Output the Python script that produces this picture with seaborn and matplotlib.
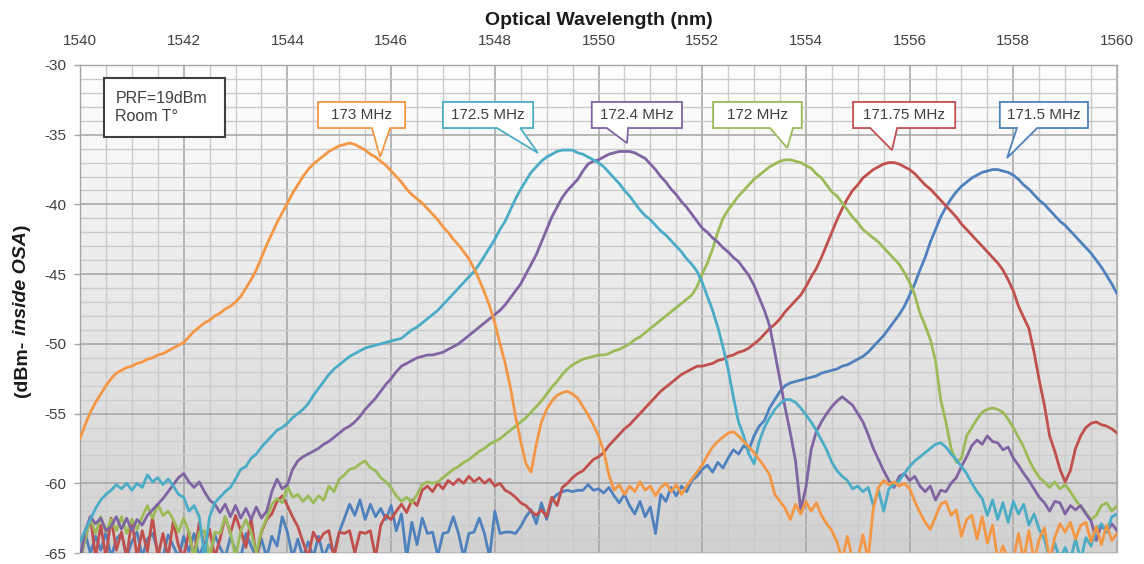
import numpy as np
import pandas as pd
import matplotlib
matplotlib.use("Agg")
import matplotlib.pyplot as plt
import seaborn as sns
from matplotlib.colors import LinearSegmentedColormap
from matplotlib.patches import Polygon, Rectangle
from matplotlib.ticker import MultipleLocator

# ---------------- data ----------------
wavelength_nm = np.round(np.arange(1540.0, 1560.0001, 0.1), 1)

power_173 = [
    -56.8, -55.8, -54.9, -54.2, -53.6, -53.0, -52.5, -52.1, -51.9, -51.7,
    -51.6, -51.4, -51.3, -51.1, -51.0, -50.8, -50.7, -50.5, -50.3, -50.1,
    -49.9, -49.5, -49.1, -48.8, -48.5, -48.3, -48.0, -47.8, -47.5, -47.3,
    -47.0, -46.6, -46.0, -45.4, -44.7, -43.8, -42.9, -42.1, -41.3, -40.6,
    -39.9, -39.2, -38.6, -38.0, -37.5, -37.1, -36.8, -36.5, -36.2, -36.0,
    -35.8, -35.7, -35.6, -35.7, -35.9, -36.1, -36.4, -36.6, -36.9, -37.2,
    -37.6, -38.0, -38.4, -38.9, -39.3, -39.6, -39.9, -40.3, -40.7, -41.1,
    -41.6, -42.0, -42.5, -42.9, -43.4, -43.9, -44.6, -45.4, -46.3, -47.3,
    -48.5, -50.0, -51.4, -53.1, -55.2, -57.0, -58.6, -59.2, -57.2, -55.6,
    -54.7, -54.1, -53.7, -53.5, -53.4, -53.6, -53.9, -54.5, -55.1, -55.8,
    -56.6, -57.7, -59.4, -60.5, -60.1, -60.8, -60.2, -60.6, -59.9, -60.5,
    -60.2, -60.9, -60.3, -60.0, -60.6, -60.1, -60.8, -60.2, -59.7, -59.2,
    -58.7, -58.0, -57.4, -57.0, -56.7, -56.4, -56.3, -56.6, -57.0, -57.4,
    -57.8, -58.3, -58.8, -59.4, -60.8, -61.3, -61.8, -62.6, -61.5, -62.2,
    -61.3, -62.0, -61.4, -62.3, -62.9, -63.4, -64.2, -65.5, -63.8, -65.5,
    -65.5, -63.7, -65.5, -61.8, -60.3, -59.8, -60.1, -59.9, -60.2, -60.0,
    -60.4, -61.3, -62.1, -62.8, -63.3, -62.4, -61.5, -61.3, -62.3, -61.9,
    -63.8, -62.6, -62.3, -64.0, -62.4, -64.3, -63.0, -65.5, -64.5, -65.5,
    -65.5, -63.6, -65.5, -63.4, -65.5, -64.0, -63.2, -65.5, -63.9, -62.9,
    -63.5, -62.8, -64.0, -63.0, -62.8, -64.2, -63.1, -64.4, -63.0, -64.1,
    -63.6,
]

power_172_5 = [
    -64.2, -63.4, -62.6, -61.8, -61.2, -60.8, -60.5, -60.1, -60.4, -60.0,
    -60.5, -60.0, -60.3, -59.4, -59.9, -59.6, -60.1, -59.7, -60.2, -60.8,
    -61.0, -62.0, -61.6, -62.4, -65.2, -62.4, -61.4, -61.0, -60.6, -60.3,
    -59.7, -59.0, -58.8, -58.2, -57.9, -57.4, -57.0, -56.6, -56.2, -56.0,
    -55.7, -55.3, -55.0, -54.7, -54.3, -53.7, -53.2, -52.7, -52.2, -51.8,
    -51.5, -51.2, -50.9, -50.7, -50.5, -50.3, -50.2, -50.1, -50.0, -49.9,
    -49.8, -49.7, -49.6, -49.3, -49.0, -48.8, -48.5, -48.2, -47.9, -47.6,
    -47.2, -46.8, -46.4, -46.0, -45.6, -45.2, -44.8, -44.3, -43.7, -43.1,
    -42.5, -41.8, -41.2, -40.4, -39.6, -38.9, -38.3, -37.7, -37.3, -36.9,
    -36.6, -36.4, -36.2, -36.1, -36.1, -36.1, -36.3, -36.4, -36.6, -36.8,
    -37.0, -37.3, -37.7, -38.1, -38.5, -39.0, -39.4, -39.9, -40.4, -40.8,
    -41.1, -41.5, -41.9, -42.2, -42.6, -43.0, -43.4, -43.9, -44.3, -44.8,
    -45.6, -46.6, -47.6, -48.8, -50.2, -51.8, -53.8, -55.6, -56.6, -57.9,
    -58.6, -57.0, -56.0, -55.3, -54.7, -54.3, -54.0, -54.0, -54.2, -54.6,
    -55.1, -55.6, -56.2, -56.9, -57.6, -58.5, -59.1, -59.5, -59.8, -60.4,
    -60.2, -60.6, -60.3, -61.6, -60.5, -62.0, -60.4, -60.1, -59.8, -59.3,
    -58.8, -58.4, -58.1, -57.8, -57.5, -57.2, -57.1, -57.4, -57.9, -58.3,
    -58.8, -59.3, -60.0, -60.6, -61.1, -62.3, -61.2, -62.6, -61.4, -62.8,
    -61.3, -62.2, -61.5, -63.0, -62.2, -63.3, -64.0, -65.5, -64.3, -65.5,
    -64.6, -65.5, -64.0, -65.5, -63.9, -64.5, -63.4, -62.9, -63.5, -62.4,
    -62.2,
]

power_172_4 = [
    -65.5, -63.4, -62.4, -62.9, -62.5, -63.4, -63.1, -62.4, -63.3, -62.5,
    -63.4, -62.6, -63.0, -62.3, -61.9, -61.5, -61.1, -60.6, -60.1, -59.6,
    -59.3, -59.9, -60.3, -59.9, -60.6, -61.2, -61.5, -62.1, -61.5, -62.4,
    -61.6, -62.5, -61.8, -62.6, -61.7, -62.5, -62.0, -60.6, -59.7, -60.4,
    -60.1, -59.0, -58.4, -58.1, -57.9, -57.7, -57.5, -57.2, -57.0, -56.7,
    -56.4, -56.1, -55.9, -55.6, -55.2, -54.7, -54.3, -53.9, -53.4, -52.9,
    -52.5, -52.0, -51.6, -51.4, -51.2, -51.0, -50.9, -50.8, -50.8, -50.7,
    -50.6, -50.4, -50.2, -50.0, -49.7, -49.4, -49.1, -48.8, -48.5, -48.2,
    -47.9, -47.6, -47.2, -46.7, -46.2, -45.7, -45.0, -44.3, -43.6, -42.7,
    -41.8, -40.9, -40.2, -39.5, -39.0, -38.6, -38.2, -37.6, -37.1, -36.9,
    -36.8, -36.6, -36.4, -36.3, -36.2, -36.2, -36.2, -36.3, -36.5, -36.7,
    -37.1, -37.5, -38.0, -38.4, -38.9, -39.3, -39.8, -40.2, -40.7, -41.2,
    -41.7, -42.0, -42.4, -42.7, -43.1, -43.4, -43.8, -44.1, -44.6, -45.1,
    -45.8, -46.7, -47.6, -48.7, -50.6, -52.6, -54.6, -56.4, -58.4, -61.9,
    -60.3, -57.6, -56.3, -55.6, -55.0, -54.5, -54.1, -53.8, -54.1, -54.4,
    -55.0, -55.6, -56.5, -57.5, -58.3, -59.1, -59.8, -60.3, -59.5, -59.3,
    -59.8, -59.5, -60.2, -60.6, -60.2, -61.2, -60.5, -60.6, -60.0, -59.6,
    -58.8, -58.1, -57.3, -56.9, -57.2, -56.6, -57.0, -57.1, -57.6, -57.4,
    -58.2, -58.7, -59.3, -59.8, -60.4, -61.0, -61.4, -62.0, -61.3, -61.4,
    -62.2, -61.6, -61.9, -61.6, -62.2, -62.7, -64.1, -63.0, -63.5, -62.9,
    -63.4,
]

power_172 = [
    -65.5, -64.0, -62.5, -63.6, -62.4, -63.5, -62.6, -63.4, -62.4, -63.6,
    -62.6, -63.3, -62.4, -61.6, -62.5, -61.5, -62.3, -62.0, -62.6, -63.5,
    -62.5, -63.5, -65.3, -63.5, -63.4, -65.3, -63.5, -63.6, -62.4, -63.5,
    -65.3, -63.4, -62.6, -63.5, -65.0, -63.4, -62.5, -61.5, -61.1, -61.4,
    -60.2, -61.0, -60.8, -61.3, -60.9, -61.4, -60.9, -61.2, -60.2, -60.6,
    -59.7, -59.4, -59.0, -58.9, -58.6, -58.4, -58.9, -59.1, -59.6, -59.9,
    -60.3, -60.9, -61.3, -61.0, -61.4, -60.8, -60.1, -59.9, -60.0, -59.9,
    -59.6, -59.3, -59.0, -58.8, -58.5, -58.3, -58.0, -57.7, -57.5, -57.2,
    -57.0, -56.8, -56.5, -56.2, -55.9, -55.6, -55.3, -54.9, -54.5, -54.1,
    -53.6, -53.1, -52.7, -52.2, -51.8, -51.5, -51.3, -51.1, -51.0, -50.9,
    -50.8, -50.8, -50.7, -50.5, -50.4, -50.2, -50.0, -49.7, -49.5, -49.2,
    -48.9, -48.6, -48.3, -48.0, -47.7, -47.4, -47.1, -46.8, -46.5, -45.9,
    -45.0, -44.2, -43.2, -42.0, -41.0, -40.4, -39.9, -39.4, -39.0, -38.6,
    -38.2, -37.9, -37.6, -37.3, -37.1, -36.9, -36.8, -36.8, -36.9, -37.0,
    -37.2, -37.4, -37.8, -38.1, -38.6, -39.1, -39.4, -39.9, -40.4, -40.9,
    -41.3, -41.8, -42.1, -42.4, -42.7, -43.1, -43.5, -43.9, -44.3, -44.9,
    -45.6, -46.5, -47.8, -48.7, -49.7, -51.2, -54.0, -55.6, -57.5, -58.5,
    -58.2, -56.6, -56.0, -55.4, -54.9, -54.7, -54.6, -54.7, -54.9, -55.4,
    -56.0, -56.7, -57.4, -58.3, -59.0, -59.6, -59.9, -60.3, -59.9, -60.4,
    -60.1, -60.6, -61.2, -61.7, -62.1, -62.6, -62.3, -61.6, -61.4, -62.0,
    -61.6,
]

power_171_75 = [
    -65.5, -64.0, -62.4, -65.3, -63.0, -65.3, -62.5, -64.8, -63.5, -65.3,
    -62.6, -65.3, -63.4, -64.9, -62.4, -65.3, -63.6, -65.3, -62.7, -64.5,
    -65.3, -63.5, -65.3, -62.8, -64.6, -63.3, -65.3, -64.0, -62.4, -63.6,
    -62.3, -63.4, -64.6, -62.5, -65.3, -63.5, -62.6, -62.2, -61.3, -60.9,
    -61.6, -62.4, -63.1, -64.2, -65.3, -63.5, -64.2, -63.6, -63.4, -65.3,
    -63.5, -63.6, -63.4, -65.0, -63.5, -63.6, -63.4, -65.3, -63.0, -62.3,
    -62.6, -62.0, -61.5, -62.1, -61.2, -61.6, -60.5, -60.2, -60.6, -60.0,
    -60.4, -59.8, -60.1, -59.7, -60.0, -59.5, -59.9, -59.6, -60.0, -59.7,
    -60.2, -60.0, -60.5, -60.7, -61.0, -61.4, -61.6, -62.0, -62.3, -61.9,
    -62.4, -61.0, -61.6, -60.3, -60.0, -59.6, -59.3, -59.1, -58.7, -58.3,
    -58.1, -57.8, -57.3, -56.9, -56.5, -56.1, -55.8, -55.4, -55.0, -54.6,
    -54.2, -53.8, -53.4, -53.1, -52.8, -52.5, -52.2, -52.0, -51.8, -51.6,
    -51.6, -51.5, -51.4, -51.2, -51.1, -50.9, -50.8, -50.6, -50.5, -50.3,
    -50.0, -49.7, -49.3, -48.9, -48.6, -48.2, -47.7, -47.3, -46.9, -46.5,
    -45.9, -45.2, -44.6, -43.8, -42.9, -42.0, -41.1, -40.3, -39.6, -39.0,
    -38.6, -38.1, -37.8, -37.5, -37.3, -37.1, -37.0, -37.0, -37.1, -37.3,
    -37.5, -37.8, -38.2, -38.6, -38.9, -39.3, -39.7, -40.1, -40.5, -40.9,
    -41.4, -41.8, -42.2, -42.6, -43.0, -43.4, -43.8, -44.2, -44.7, -45.4,
    -46.2, -47.3, -48.1, -48.9, -50.6, -52.6, -54.4, -56.6, -57.7, -59.0,
    -59.9, -59.1, -57.5, -56.6, -56.0, -55.7, -55.6, -55.8, -55.9, -56.1,
    -56.4,
]

power_171_5 = [
    -65.3, -63.6, -65.0, -63.8, -64.8, -63.5, -65.3, -64.0, -63.6, -65.3,
    -64.2, -63.5, -65.3, -64.0, -63.6, -64.8, -65.3, -63.7, -64.5, -65.3,
    -63.8, -64.9, -63.6, -65.3, -64.2, -65.3, -63.7, -64.6, -65.3, -63.9,
    -64.8, -65.3, -63.6, -64.5, -65.3, -64.0, -65.3, -63.8, -64.5, -62.4,
    -63.5, -65.3, -64.0, -65.3, -64.2, -65.3, -63.8, -65.3, -64.4, -65.0,
    -63.5, -62.5, -61.5, -62.3, -61.2, -62.6, -61.5, -62.4, -61.8, -62.6,
    -61.6, -63.4, -62.2, -65.3, -62.8, -64.4, -62.5, -63.6, -63.5, -65.2,
    -63.6, -63.5, -62.4, -63.6, -65.3, -63.6, -63.5, -62.5, -63.6, -65.3,
    -62.0, -63.6, -63.5, -63.5, -63.6, -63.1, -62.4, -61.9, -62.9, -61.4,
    -62.6, -61.2, -60.8, -60.6, -60.5, -60.6, -60.5, -60.5, -60.1, -60.5,
    -60.4, -60.7, -60.3, -60.9, -61.4, -60.8, -61.6, -62.2, -61.3, -62.4,
    -61.7, -63.6, -60.8, -61.3, -60.3, -60.9, -60.2, -60.6, -59.8, -59.5,
    -59.0, -58.7, -59.2, -58.5, -58.9, -58.2, -57.6, -57.9, -57.3, -57.6,
    -56.6, -55.9, -55.5, -54.6, -54.0, -53.4, -53.0, -52.8, -52.7, -52.6,
    -52.5, -52.4, -52.3, -52.1, -52.0, -51.9, -51.8, -51.6, -51.5, -51.3,
    -51.1, -50.9, -50.6, -50.2, -49.8, -49.4, -48.9, -48.4, -47.9, -47.3,
    -46.5, -45.7, -44.7, -43.8, -42.7, -41.8, -40.9, -40.2, -39.6, -39.1,
    -38.7, -38.4, -38.1, -37.9, -37.7, -37.6, -37.5, -37.5, -37.6, -37.7,
    -37.9, -38.2, -38.6, -38.9, -39.3, -39.7, -40.0, -40.4, -40.8, -41.2,
    -41.5, -41.9, -42.3, -42.7, -43.1, -43.5, -44.0, -44.5, -45.1, -45.7,
    -46.4,
]

series_labels = ["173 MHz", "172.5 MHz", "172.4 MHz", "172 MHz", "171.75 MHz", "171.5 MHz"]
series_values = [power_173, power_172_5, power_172_4, power_172, power_171_75, power_171_5]
series_colors = ["#F39745", "#4BACC6", "#8064A2", "#9BBB59", "#C0504D", "#4F81BD"]

x_ticks = [1540, 1542, 1544, 1546, 1548, 1550, 1552, 1554, 1556, 1558, 1560]
y_ticks = [-65, -60, -55, -50, -45, -40, -35, -30]

for v in series_values:
    assert len(v) == len(wavelength_nm)

frames = []
for lab, vals in zip(series_labels, series_values):
    frames.append(pd.DataFrame({"wavelength": wavelength_nm, "power": vals, "series": lab}))
df = pd.concat(frames, ignore_index=True)

# ---------------- style ----------------
sns.set_style("white")
plt.rcParams["font.family"] = ["Liberation Sans", "DejaVu Sans"]
plt.rcParams["axes.unicode_minus"] = False

W, H = 1144, 564
fig = plt.figure(figsize=(W / 100, H / 100), dpi=100)
fig.patch.set_facecolor("white")
L, R, T, B = 80, 1117, 65, 553
ax = fig.add_axes([L / W, 1 - B / H, (R - L) / W, (B - T) / H])

# gradient background
cmap = LinearSegmentedColormap.from_list("bg", ["#ffffff", "#d1d1d1"])
ax.imshow(np.linspace(0, 1, 256).reshape(-1, 1), extent=[1540, 1560, -65, -30],
          aspect="auto", cmap=cmap, origin="upper", zorder=0)

draw_order = ["171.5 MHz", "171.75 MHz", "172 MHz", "172.4 MHz", "172.5 MHz", "173 MHz"]
palette = dict(zip(series_labels, series_colors))
sns.lineplot(data=df, x="wavelength", y="power", hue="series", hue_order=draw_order,
             palette=palette, estimator=None, sort=False, linewidth=2.0,
             legend=False, ax=ax, zorder=3)

ax.set_xlim(1540, 1560)
ax.set_ylim(-65, -30)
ax.set_xticks(x_ticks)
ax.set_xticklabels([str(t) for t in x_ticks])
ax.set_yticks(y_ticks)
ax.set_yticklabels([str(t) for t in y_ticks])
ax.xaxis.set_minor_locator(MultipleLocator(0.5))
ax.yaxis.set_minor_locator(MultipleLocator(1))
ax.set_axisbelow(True)
ax.grid(True, which="minor", color="#cbcbcb", linewidth=1.0)
ax.grid(True, which="major", color="#a4a4a4", linewidth=1.1)

ax.xaxis.tick_top()
ax.xaxis.set_label_position("top")
ax.tick_params(axis="x", which="major", top=True, bottom=False, labeltop=True,
               labelbottom=False, length=0, pad=12, labelsize=11, labelcolor="#404040")
ax.tick_params(axis="y", which="major", left=True, length=4, width=1, color="#a4a4a4",
               pad=6, labelsize=11, labelcolor="#404040")
ax.tick_params(which="minor", length=0)
ax.set_xlabel("Optical Wavelength (nm)", fontsize=14, fontweight="bold",
              color="#1a1a1a", labelpad=7)
ax.set_ylabel("")
for side, col in [("left", "#a4a4a4"), ("top", "#a4a4a4"), ("right", "#b4b4b4"), ("bottom", "#e6e6e6")]:
    ax.spines[side].set_visible(True)
    ax.spines[side].set_color(col)
    ax.spines[side].set_linewidth(1.0)

# ---------------- annotations ----------------
box_top, box_bot = -32.65, -34.52
callout_boxes = [(1544.59, 1546.27), (1547.00, 1548.74), (1549.87, 1551.61),
                 (1552.21, 1553.92), (1554.91, 1556.88), (1557.74, 1559.44)]
callout_tails = [(1545.63, 1545.98, 1545.79, -36.6), (1548.04, 1548.49, 1548.83, -36.3),
                 (1550.16, 1550.57, 1550.55, -35.6), (1553.31, 1553.75, 1553.64, -35.95),
                 (1555.24, 1555.76, 1555.66, -36.1), (1558.07, 1558.46, 1557.88, -36.67)]
for lab, col, (x0, x1), (t0, t1, ax_, ay_) in zip(series_labels, series_colors,
                                                  callout_boxes, callout_tails):
    pts = [(x0, box_top), (x1, box_top), (x1, box_bot), (t1, box_bot), (ax_, ay_),
           (t0, box_bot), (x0, box_bot)]
    ax.add_patch(Polygon(pts, closed=True, facecolor="white", edgecolor=col,
                         linewidth=1.3, zorder=6))
    ax.text((x0 + x1) / 2, (box_top + box_bot) / 2, lab, ha="center", va="center",
            fontsize=11, color="#404040", zorder=7)

ax.add_patch(Rectangle((1540.46, -35.17), 2.33, 4.24, facecolor="white",
                       edgecolor="#404040", linewidth=1.5, zorder=6))
ax.text(1540.68, -33.05, "PRF=19dBm\nRoom T°", ha="left", va="center",
        fontsize=11.5, color="#404040", linespacing=1.25, zorder=7)

# y label with italic part
fig.canvas.draw()
renderer = fig.canvas.get_renderer()
fs = 14
parts = [("(dBm-", "normal"), ("inside OSA", "italic"), (")", "normal")]
texts = [fig.text(22 / W, 0.5, s, rotation=90, fontsize=fs, fontweight="bold",
                  fontstyle=st, ha="center", va="bottom", color="#1a1a1a")
         for s, st in parts]
lens = [t.get_window_extent(renderer).height for t in texts]
gap = 0.278 * fs * 100 / 72
total = sum(lens) + gap
cy = H - 311
ypos = cy - total / 2
offsets = [0, lens[0] + gap, lens[0] + gap + lens[1]]
for t, off in zip(texts, offsets):
    t.set_y((ypos + off) / H)

fig.savefig("out.png", dpi=100, facecolor="white")
